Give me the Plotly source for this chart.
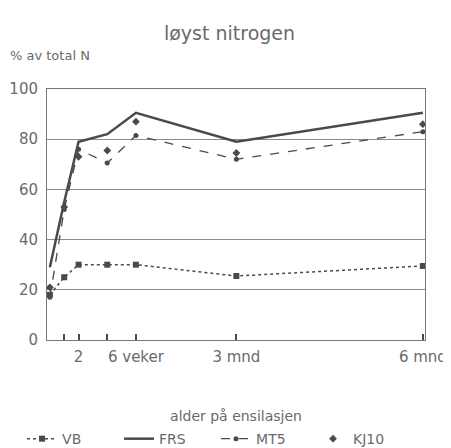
import plotly.graph_objects as go

# alder i veker
weeks = [0, 1, 2, 4, 6, 13, 26]

vb = [18, 25, 30, 30, 30, 25.5, 29.5]
frs = [29, 55, 79, 82, 90.5, 79, 90.5]
mt5 = [17, 52, 76, 70.5, 81.5, 72, 83]
kj10 = [21, 53, 73, 75.5, 87, 74.5, 86]

tick_vals = [1, 2, 4, 6, 13, 26]
tick_text = ["", "2", "", "6 veker", "3 mnd", "6 mnd"]

ink = "#4a4a4a"
txt = "#6a6a6a"
font = "DejaVu Sans"

fig = go.Figure()

fig.add_trace(go.Scatter(x=weeks, y=vb, name="VB", mode="lines+markers",
                         line=dict(color=ink, width=1.5, dash="dot"),
                         marker=dict(symbol="square", size=6, color=ink)))
fig.add_trace(go.Scatter(x=weeks, y=frs, name="FRS", mode="lines",
                         line=dict(color=ink, width=2.5)))
fig.add_trace(go.Scatter(x=weeks, y=mt5, name="MT5", mode="lines+markers",
                         line=dict(color=ink, width=1.3, dash="dash"),
                         marker=dict(symbol="circle", size=5, color=ink)))
fig.add_trace(go.Scatter(x=weeks, y=kj10, name="KJ10", mode="markers",
                         marker=dict(symbol="diamond", size=6, color=ink)))

fig.update_xaxes(range=[-0.2, 26.15], tickvals=tick_vals, ticktext=tick_text,
                 ticks="inside", ticklen=6, tickwidth=1.5, tickcolor=ink,
                 showgrid=False, zeroline=False, showline=True, linecolor="#777",
                 linewidth=1, mirror=True, automargin=False,
                 ticklabelstandoff=3,
                 tickfont=dict(family=font, size=15, color=txt),
                 title=dict(text="alder på ensilasjen", standoff=46,
                            font=dict(family=font, size=14, color=txt)))
fig.update_yaxes(range=[0, 100], dtick=20, showgrid=True, gridcolor="#8a8a8a",
                 gridwidth=1, zeroline=False, showline=True, linecolor="#777",
                 linewidth=1, mirror=True, ticks="", automargin=False,
                 ticklabelstandoff=5,
                 tickfont=dict(family=font, size=15, color=txt))

fig.add_annotation(text="% av total N", xref="paper", yref="paper", x=-0.103, y=1.097,
                   xanchor="left", yanchor="bottom", showarrow=False,
                   font=dict(family=font, size=13, color=txt))

fig.update_layout(
    width=443, height=440,
    margin=dict(l=39, r=26, t=81, b=108, autoexpand=False),
    paper_bgcolor="white", plot_bgcolor="white",
    title=dict(text="løyst nitrogen", x=0.5, xanchor="center", y=0.943,
               yanchor="middle", font=dict(family=font, size=19, color=txt)),
    showlegend=True,
    legend=dict(orientation="h", x=-0.066, xanchor="left", y=-0.331, yanchor="top",
                itemwidth=30, entrywidth=52,
                font=dict(family=font, size=14, color=txt)),
)

fig.write_html("out.html")
